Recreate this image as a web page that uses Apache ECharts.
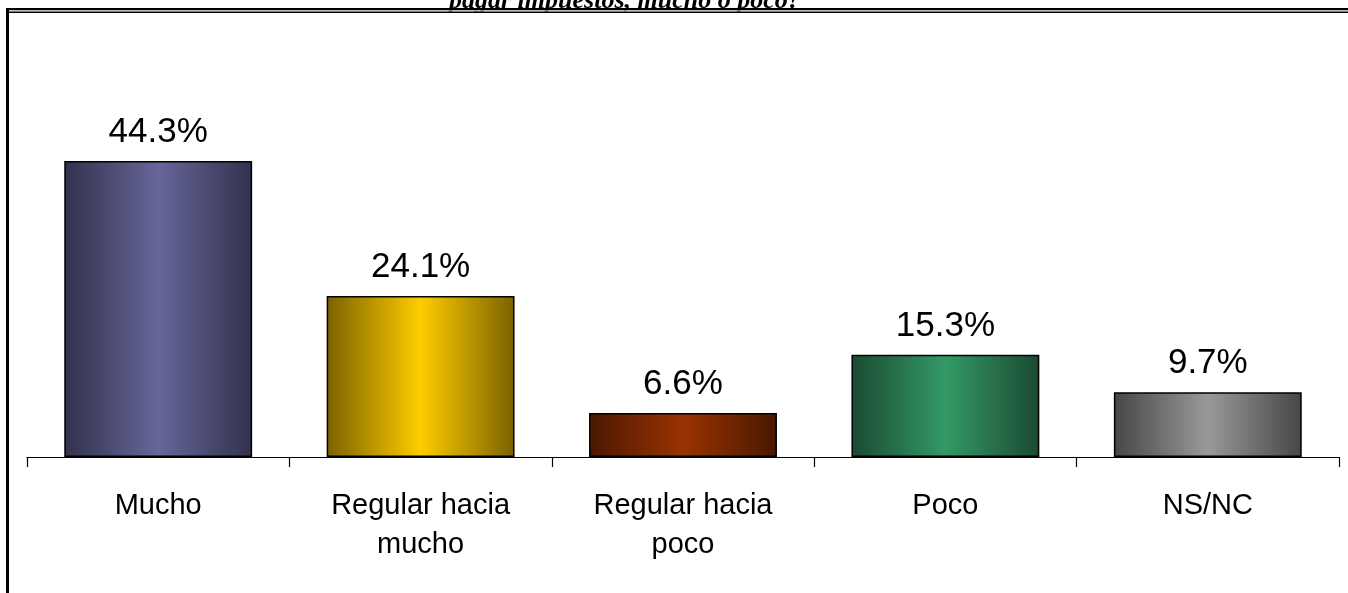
<!DOCTYPE html>
<html>
<head>
<meta charset="utf-8">
<script src="https://cdn.jsdelivr.net/npm/echarts@6/dist/echarts.min.js"></script>
<style>
html,body{margin:0;padding:0;background:#fff;}
#chart{width:1348px;height:593px;}
</style>
</head>
<body>
<div id="chart"></div>
<script>
const titleText = 'pagar impuestos, mucho o poco?';
const categories = ['Mucho', 'Regular hacia\nmucho', 'Regular hacia\npoco', 'Poco', 'NS/NC'];
const values = [44.3, 24.1, 6.6, 15.3, 9.7];
const edgeColors = ['#32324e', '#7a6200', '#4a1800', '#1a4a32', '#464646'];
const centerColors = ['#666699', '#ffcc00', '#993300', '#339966', '#999999'];

const chart = echarts.init(document.getElementById('chart'));

const data = values.map((v, i) => ({
  value: v,
  itemStyle: {
    color: new echarts.graphic.LinearGradient(0, 0, 1, 0, [
      { offset: 0, color: edgeColors[i] },
      { offset: 0.5, color: centerColors[i] },
      { offset: 1, color: edgeColors[i] }
    ])
  }
}));

chart.setOption({
  animation: false,
  backgroundColor: '#ffffff',
  title: {
    text: titleText,
    left: 444,
    top: -17,
    textStyle: {
      fontFamily: '"Liberation Serif", "Times New Roman", serif',
      fontStyle: 'italic',
      fontWeight: 'bold',
      fontSize: 26,
      color: '#000'
    }
  },
  graphic: [
    { type: 'rect', shape: { x: 0, y: 0, width: 1348, height: 8 }, style: { fill: 'rgba(0,0,0,0)' }, silent: true },
    { type: 'rect', shape: { x: 6, y: 8, width: 1342, height: 2.5 }, style: { fill: '#000' }, silent: true, z: 10 },
    { type: 'rect', shape: { x: 6, y: 10.5, width: 1342, height: 1 }, style: { fill: '#fff' }, silent: true, z: 10 },
    { type: 'rect', shape: { x: 6, y: 11.5, width: 1342, height: 1.5 }, style: { fill: '#000' }, silent: true, z: 10 },
    { type: 'rect', shape: { x: 6, y: 8, width: 3, height: 600 }, style: { fill: '#000' }, silent: true, z: 10 }
  ],
  grid: { left: 27, right: 9, top: 56, bottom: 136 },
  xAxis: {
    type: 'category',
    data: categories,
    axisLine: { show: true, lineStyle: { color: '#000', width: 1.2 } },
    axisTick: { show: true, length: 10, alignWithLabel: false, lineStyle: { color: '#000', width: 1.2 } },
    axisLabel: {
      margin: 29,
      interval: 0,
      fontFamily: '"Liberation Sans", Arial, sans-serif',
      fontSize: 29,
      lineHeight: 39,
      color: '#000'
    }
  },
  yAxis: {
    type: 'value',
    min: 0,
    max: 60,
    show: false,
    splitLine: { show: false }
  },
  series: [{
    type: 'bar',
    data: data,
    barCategoryGap: '28.4%',
    itemStyle: { borderColor: '#000', borderWidth: 1.5 },
    label: {
      show: true,
      position: 'top',
      distance: 11,
      formatter: p => p.value.toFixed(1) + '%',
      fontFamily: '"Liberation Sans", Arial, sans-serif',
      fontSize: 35,
      lineHeight: 35,
      color: '#000'
    }
  }]
});
</script>
</body>
</html>
